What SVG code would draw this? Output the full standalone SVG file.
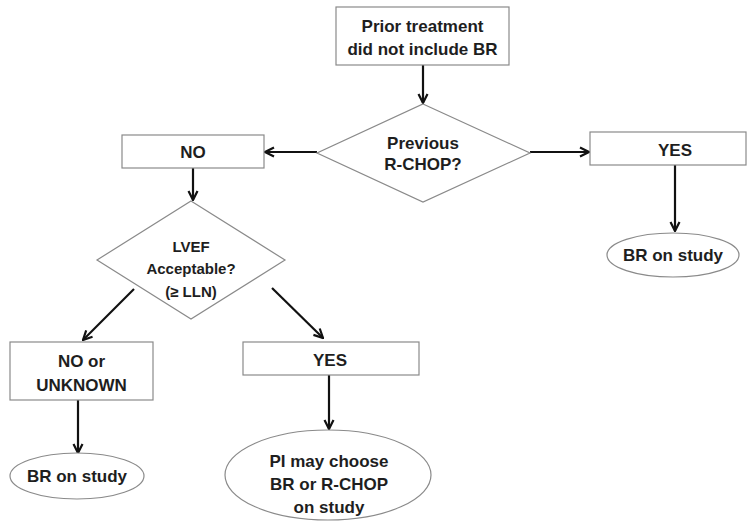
<svg xmlns="http://www.w3.org/2000/svg" width="748" height="523" viewBox="0 0 748 523">
<defs>
<marker id="arr" viewBox="0 0 12 12" refX="11" refY="6" markerWidth="12" markerHeight="12" markerUnits="userSpaceOnUse" orient="auto">
<path d="M2,1.5 L11,6 L2,10.5" fill="none" stroke="#111" stroke-width="2.2" stroke-linejoin="miter"/>
</marker>
</defs>
<style>
.box{fill:#fff;stroke:#8a8a8a;stroke-width:1.2}
.t{font-family:"Liberation Sans",Arial,sans-serif;font-weight:bold;fill:#1e1e1e;text-anchor:middle}
.c{stroke:#111;stroke-width:2.2;fill:none;marker-end:url(#arr)}
</style>
<rect width="748" height="523" fill="#fff"/>
<g id="connectors">
<line class="c" x1="423" y1="65" x2="423" y2="103"/>
<line class="c" x1="317" y1="152" x2="265" y2="152"/>
<line class="c" x1="530" y1="152" x2="589" y2="152"/>
<line class="c" x1="675" y1="165" x2="675" y2="231"/>
<line class="c" x1="193" y1="168" x2="193" y2="200"/>
<line class="c" x1="134" y1="289" x2="83" y2="340"/>
<line class="c" x1="272" y1="288" x2="323" y2="338"/>
<line class="c" x1="78" y1="400" x2="78" y2="453"/>
<line class="c" x1="329" y1="375" x2="329" y2="429"/>
</g>
<g id="start">
<rect class="box" x="336" y="7" width="173" height="58"/>
<text class="t" x="422.5" y="32" font-size="17">Prior treatment</text>
<text class="t" x="422.5" y="55" font-size="17">did not include BR</text>
</g>
<g id="d1">
<polygon class="box" points="423,104 530,153 423,202 317,153"/>
<text class="t" x="423" y="149" font-size="17">Previous</text>
<text class="t" x="423" y="170" font-size="17">R-CHOP?</text>
</g>
<g id="no1">
<rect class="box" x="122" y="135" width="142" height="33"/>
<text class="t" x="193" y="158" font-size="17">NO</text>
</g>
<g id="yes1">
<rect class="box" x="590" y="132" width="156" height="33"/>
<text class="t" x="675" y="156" font-size="17">YES</text>
</g>
<g id="br1">
<ellipse class="box" cx="673" cy="255" rx="66" ry="22"/>
<text class="t" x="673" y="261" font-size="17">BR on study</text>
</g>
<g id="d2">
<polygon class="box" points="191,201 285,260 191,319 97,260"/>
<text class="t" x="191" y="252" font-size="15">LVEF</text>
<text class="t" x="191" y="274" font-size="15">Acceptable?</text>
<text class="t" x="191" y="297" font-size="15">(≥ LLN)</text>
</g>
<g id="nounk">
<rect class="box" x="10" y="342" width="143" height="58"/>
<text class="t" x="81.5" y="367" font-size="17">NO or</text>
<text class="t" x="81.5" y="391" font-size="17">UNKNOWN</text>
</g>
<g id="yes2">
<rect class="box" x="243" y="342" width="176" height="33"/>
<text class="t" x="330" y="366" font-size="17">YES</text>
</g>
<g id="br2">
<ellipse class="box" cx="77" cy="476" rx="67" ry="23"/>
<text class="t" x="77" y="482" font-size="17">BR on study</text>
</g>
<g id="pi">
<ellipse class="box" cx="328" cy="475" rx="103" ry="45"/>
<text class="t" x="329" y="467" font-size="17">PI may choose</text>
<text class="t" x="329" y="490" font-size="17">BR or R-CHOP</text>
<text class="t" x="329" y="513" font-size="17">on study</text>
</g>
</svg>
